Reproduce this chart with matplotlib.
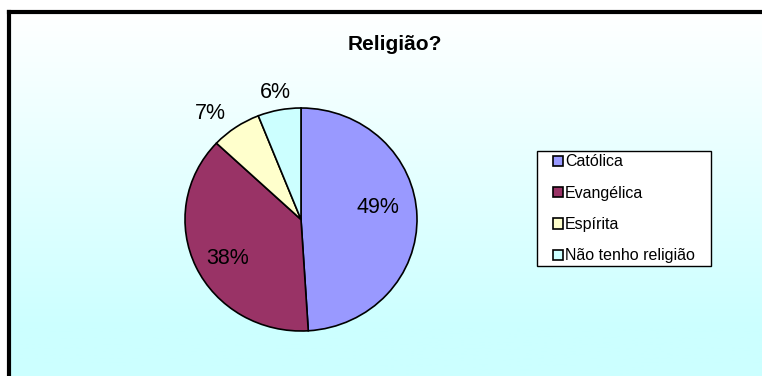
import numpy as np
import matplotlib

matplotlib.use("Agg")
import matplotlib.pyplot as plt

plt.rcParams["font.family"] = ["Liberation Sans", "DejaVu Sans"]

LABELS = ["Católica", "Evangélica", "Espírita", "Não tenho religião"]
SHARES = [49, 38, 7, 6]
COLORS = ["#9999FF", "#993366", "#FFFFCC", "#CCFFFF"]
# label placement: distance in pie radii, and angle nudge in degrees
LABEL_DIST = [0.67, 0.72, 1.23, 1.16]
LABEL_NUDGE = [7.5, 3.5, 5.3, 0.0]

W, H = 762, 376
fig = plt.figure(figsize=(W / 100, H / 100), dpi=100)
fig.patch.set_facecolor("white")

# chart area: white-to-cyan gradient with a black frame on top and left
bg = fig.add_axes([9 / W, 0, 1 - 9 / W, 1 - 12 / H])
grad = np.linspace(0, 1, 256).reshape(-1, 1)
top = np.array([1.0, 1.0, 1.0])
bottom = np.array([0.8, 1.0, 1.0])
img = top + (bottom - top) * np.clip(grad * 1.15, 0, 1)[..., None]
bg.imshow(img, aspect="auto", extent=[0, 1, 0, 1], origin="upper")
bg.set_xlim(0, 1)
bg.set_ylim(0, 1)
bg.set_xticks([])
bg.set_yticks([])
for side in ("right", "bottom"):
    bg.spines[side].set_visible(False)
for side in ("top", "left"):
    bg.spines[side].set_linewidth(3)
    bg.spines[side].set_color("black")

fig.text(395 / W, 1 - 45 / H, "Religião?", ha="center", va="center",
         fontsize=15, fontweight="bold")

# the source image is slightly stretched sideways, so the pie is too
rx, ry = 116, 111.5
cx, cy = 301, 219.5
ax = fig.add_axes([(cx - rx) / W, (H - cy - ry) / H, 2 * rx / W, 2 * ry / H])
wedges, _ = ax.pie(SHARES, colors=COLORS, startangle=90, counterclock=False,
                   wedgeprops=dict(edgecolor="black", linewidth=1.2))
ax.set_xlim(-1, 1)
ax.set_ylim(-1, 1)
ax.set_aspect("auto")
ax.axis("off")

for w, share, dist, nudge in zip(wedges, SHARES, LABEL_DIST, LABEL_NUDGE):
    mid = np.deg2rad((w.theta1 + w.theta2) / 2 + nudge)
    ax.text(dist * np.cos(mid), dist * np.sin(mid), f"{share}%",
            ha="center", va="center", fontsize=15.5, clip_on=False)

# legend box (Excel pads it more on the sides than top/bottom)
box = plt.Rectangle((537 / W, 1 - 266 / H), 174 / W, 115 / H,
                    transform=fig.transFigure, facecolor="white",
                    edgecolor="black", lw=1.0)
fig.patches.append(box)

handles = [plt.Rectangle((0, 0), 1, 1, facecolor=c, edgecolor="black", lw=1.2)
           for c in COLORS]
leg = fig.legend(handles, LABELS, loc="upper left",
                 bbox_to_anchor=(553 / W, 1 - 154.5 / H),
                 fontsize=11.5, frameon=False,
                 handlelength=0.6, handleheight=0.6, handletextpad=0.15,
                 labelspacing=1.02, borderpad=0, borderaxespad=0)

fig.savefig("out.png", dpi=100)
